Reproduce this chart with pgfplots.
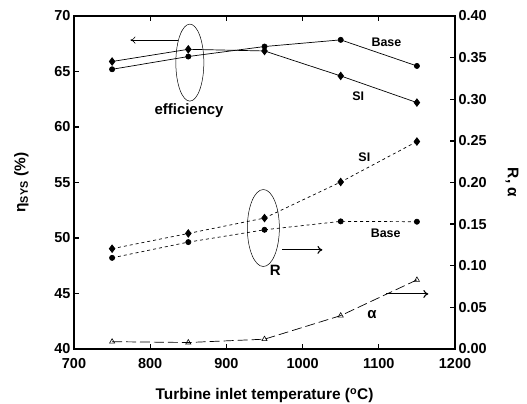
\documentclass[border=0pt]{standalone}
\usepackage{fontspec}
\setmainfont{Liberation Sans}
\usepackage{pgfplots}
\pgfplotsset{compat=1.18}
\usetikzlibrary{arrows.meta}
\begin{document}
\begin{tikzpicture}
\pgfplotsset{
  every axis/.append style={
    scale only axis, width=381bp, height=333bp,
    xmin=700, xmax=1200,
    axis line style={line width=1.3pt},
    major tick length=5pt,
    tick style={line width=1.3pt, black},
    tick label style={font=\fontsize{14.5}{14.5}\selectfont\bfseries},
    label style={font=\fontsize{15.5}{15.5}\selectfont\bfseries},
    /pgf/number format/assume math mode=true,
    /pgf/number format/1000 sep={},
  }
}
\begin{axis}[
  name=main,
  ymin=40, ymax=70, ytick={40,45,50,55,60,65,70},
  xtick={700,800,900,1000,1100,1200},
  xticklabel={\textbf{\pgfmathprintnumber{\tick}}},
  yticklabel={\textbf{\pgfmathprintnumber{\tick}}},
  xticklabel style={yshift=-6bp},
  ytick pos=left,
  xlabel={Turbine inlet temperature (\textsuperscript{o}C)},
  ylabel={η\textsubscript{SYS} (\%)},
  xlabel shift=13bp,
  ylabel shift=19bp,
]
% efficiency, Base
\addplot[black, line width=0.7pt, mark=*, mark size=2.6pt]
  coordinates {(750,65.2) (850,66.35) (950,67.25) (1050,67.85) (1150,65.5)};
% efficiency, SI
\addplot[black, line width=0.7pt, mark=diamond*, mark size=3.8pt]
  coordinates {(750,65.9) (850,67.0) (950,66.85) (1050,64.6) (1150,62.2)};

\draw[line width=0.5pt] (axis cs:852,65.8) ellipse [x radius=14bp, y radius=38.5bp];
\draw[line width=0.6pt, -{To[length=5pt,width=7pt]}] (axis cs:836,67.83) -- (axis cs:774,67.83);
\node[font=\fontsize{15}{15}\selectfont\bfseries] at (axis cs:851,61.45) {efficiency};
\node[font=\fontsize{12.5}{12.5}\selectfont\bfseries] at (axis cs:1110,67.6) {Base};
\node[font=\fontsize{12.5}{12.5}\selectfont\bfseries] at (axis cs:1073,62.75) {SI};
\node[font=\fontsize{12.5}{12.5}\selectfont\bfseries] at (axis cs:1081,57.3) {SI};
\node[font=\fontsize{12.5}{12.5}\selectfont\bfseries] at (axis cs:1109,50.45) {Base};
\draw[line width=0.5pt] (axis cs:948.5,50.9) ellipse [x radius=16bp, y radius=38.5bp];
\node[font=\fontsize{15}{15}\selectfont\bfseries] at (axis cs:964,47.1) {R};
\draw[line width=1.1pt, -{To[length=5pt,width=8pt]}] (axis cs:973,48.93) -- (axis cs:1026,48.93);
\node[font=\fontsize{15}{15}\selectfont\bfseries] at (axis cs:1091,43.1) {α};
\draw[line width=1.1pt, -{To[length=5pt,width=8pt]}] (axis cs:1110,44.96) -- (axis cs:1165,44.96);
\end{axis}

\begin{axis}[
  axis y line*=right, axis x line=none,
  ymin=0, ymax=0.4,
  ytick={0,0.05,0.1,0.15,0.2,0.25,0.3,0.35,0.4},
  yticklabel={\textbf{\pgfmathprintnumber[fixed, fixed zerofill, precision=2]{\tick}}},
  ylabel={R, α},
  ylabel style={rotate=180},
  ylabel shift=12bp,
]
% R, SI
\addplot[black, line width=0.7pt, dash pattern=on 3pt off 3pt, mark=diamond*, mark size=3.8pt, mark options={solid}]
  coordinates {(750,0.1205) (850,0.1388) (950,0.1573) (1050,0.2006) (1150,0.2492)};
% R, Base
\addplot[black, line width=0.7pt, dash pattern=on 3pt off 3pt, mark=*, mark size=2.6pt, mark options={solid}]
  coordinates {(750,0.1095) (850,0.1284) (950,0.1432) (1050,0.1533) (1150,0.1529)};
% alpha
\addplot[black, line width=0.7pt, dash pattern=on 10pt off 4pt, mark=triangle, mark size=3pt, mark options={solid, line width=0.6pt}]
  coordinates {(750,0.0088) (850,0.0078) (950,0.0118) (1050,0.0401) (1150,0.083)};
\end{axis}
\pgfresetboundingbox
\path[use as bounding box] ([xshift=-74bp,yshift=-54bp]main.south west) rectangle ([xshift=72bp,yshift=16bp]main.north east);
\end{tikzpicture}
\end{document}
